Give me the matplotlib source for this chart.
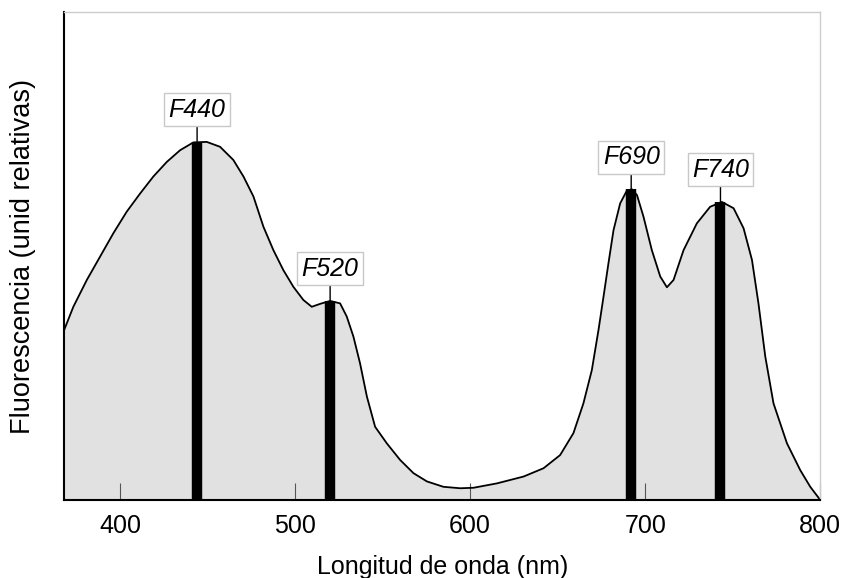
import matplotlib
matplotlib.use("Agg")
import matplotlib.pyplot as plt

plt.rcParams['font.family'] = ['Liberation Sans', 'DejaVu Sans']

# Spectrum (nm, relative units 0-100)
wavelength = [368.0, 373.3, 381.0, 388.6, 396.2, 403.8, 411.4, 419.0, 426.7, 434.3,
              441.9, 449.5, 457.1, 464.7, 470.5, 476.2, 481.9, 487.6, 493.3, 499.0,
              504.7, 509.5, 514.3, 520.0, 525.7, 529.5, 533.3, 537.1, 541.0, 545.7,
              552.4, 560.0, 567.6, 575.3, 584.7, 594.3, 601.9, 615.3, 630.5, 641.9,
              651.4, 659.0, 664.7, 669.5, 673.3, 676.2, 679.0, 681.9, 685.7, 689.5,
              692.4, 695.3, 699.0, 703.8, 708.6, 712.4, 716.2, 721.9, 729.5, 737.1,
              743.8, 750.5, 756.2, 761.0, 764.7, 768.6, 773.3, 781.0, 788.6, 794.3,
              800.0]
intensity = [34.8, 39.6, 45.1, 49.9, 54.7, 59.1, 62.8, 66.3, 69.3, 71.7,
             73.3, 73.4, 72.4, 69.7, 66.3, 62.2, 56.0, 51.2, 47.1, 43.7,
             41.0, 39.6, 40.2, 40.8, 40.3, 37.6, 33.5, 28.0, 21.2, 15.0,
             11.6, 8.2, 5.5, 3.8, 2.7, 2.4, 2.5, 3.4, 4.8, 6.5,
             9.2, 13.7, 19.8, 26.6, 34.8, 41.7, 48.5, 55.3, 60.8, 63.4,
             63.7, 62.5, 58.1, 51.2, 45.8, 43.6, 45.1, 51.2, 56.7, 60.1,
             61.1, 59.8, 55.7, 49.2, 40.3, 29.4, 19.8, 11.6, 6.1, 2.7,
             0.0]

# Marked emission peaks
peak_pos = [444, 520, 692, 743]
peak_height = [73.4, 40.8, 63.7, 61.1]
peak_labels = ['F440', 'F520', 'F690', 'F740']

x_ticks = [400, 500, 600, 700, 800]

fig = plt.figure(figsize=(8.43, 5.78), dpi=100)
ax = fig.add_axes([0.076, 0.135, 0.897, 0.844])

ax.fill_between(wavelength, intensity, 0, color='#e1e1e1', lw=0)
ax.plot(wavelength, intensity, color='black', lw=1.3, solid_joinstyle='round')

# thick black bars under each peak
ax.vlines(peak_pos, 0, peak_height, color='black', lw=7.5)

for xp, yp, lab in zip(peak_pos, peak_height, peak_labels):
    ax.annotate(lab, xy=(xp, yp), xytext=(0, 23), textcoords='offset points',
                ha='center', va='center', fontsize=18, style='italic',
                bbox=dict(boxstyle='square,pad=0.18', fc='white', ec='#c8c8c8', lw=1),
                arrowprops=dict(arrowstyle='-', color='black', lw=1,
                                shrinkA=0, shrinkB=0))

ax.set_xlim(368, 800)
ax.set_ylim(0, 100)
ax.set_xticks(x_ticks)
ax.set_yticks([])
ax.tick_params(axis='x', direction='in', length=12, width=0.8, color='#555555',
               labelsize=18, pad=10)

for side in ['top', 'right']:
    ax.spines[side].set_color('#cccccc')
    ax.spines[side].set_linewidth(1)
for side in ['left', 'bottom']:
    ax.spines[side].set_color('black')
    ax.spines[side].set_linewidth(1.5)

ax.set_xlabel('Longitud de onda (nm)', fontsize=18, labelpad=12)
ax.set_ylabel('Fluorescencia (unid relativas)', fontsize=19.5, labelpad=20)

fig.savefig('out.png', dpi=100)
